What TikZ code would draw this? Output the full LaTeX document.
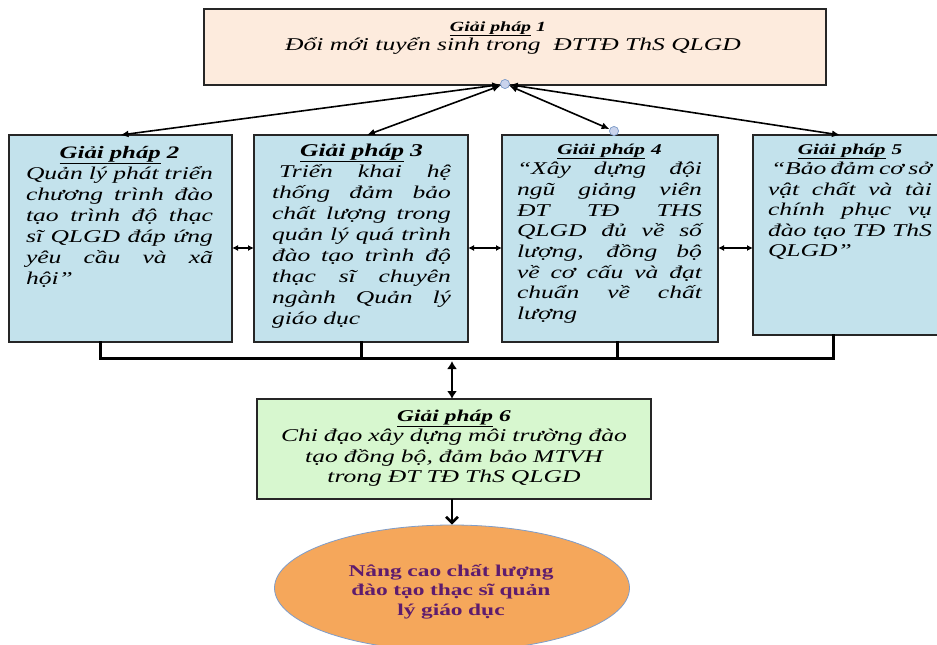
\documentclass[tikz,border=0pt]{standalone}
\usepackage{fontspec}
\setmainfont{Liberation Serif}[FakeStretch=1.42]
\usetikzlibrary{arrows.meta,calc,shapes.geometric}
\definecolor{peach}{HTML}{FDEBDD}
\definecolor{lblue}{HTML}{C3E2EC}
\definecolor{lgreen}{HTML}{D7F7CF}
\definecolor{orng}{HTML}{F5A75B}
\definecolor{ellb}{HTML}{7F9DC9}
\definecolor{purp}{HTML}{5E1C6E}
\definecolor{dotf}{HTML}{C9D3EC}
\newcommand{\jl}[1]{\hbox to \hsize{\spaceskip=0.25em plus 1fil minus 0.1em\relax #1}\par}
\newcommand{\gptitle}[2]{{\centering\fontsize{#1}{21}\selectfont\bfseries\underline{Giải pháp} #2\par}}
\tikzset{
  boxst/.style={draw=black!85, line width=2pt, anchor=north west, inner sep=0pt, outer sep=0pt},
  txt/.style={anchor=base west, inner sep=0pt, outer sep=0pt, text width=#1},
  conn/.style={line width=1.6pt, {Latex[length=8pt,width=7pt]}-{Latex[length=8pt,width=7pt]}},
  hconn/.style={line width=1.2pt, {Latex[length=6pt,width=6pt]}-{Latex[length=6pt,width=6pt]}},
  bus/.style={line width=3pt, line cap=rect},
  dotc/.style={circle, draw=ellb, fill=dotf, minimum size=9pt, inner sep=0pt, line width=0.6pt},
}
\begin{document}
\begin{tikzpicture}[x=1pt,y=-1pt]
\useasboundingbox (0,0) rectangle (937,645);
\clip (0,0) rectangle (937,645);
\fill[white] (0,0) rectangle (937,645);

% boxes
\node[boxst, fill=peach, line width=2.5pt, minimum width=622pt, minimum height=76pt] (b1) at (204,9) {};
\node[boxst, fill=lblue, minimum width=223pt, minimum height=207pt] (b2) at (9,135) {};
\node[boxst, fill=lblue, minimum width=214pt, minimum height=207pt] (b3) at (254,135) {};
\node[boxst, fill=lblue, minimum width=216pt, minimum height=207pt] (b4) at (502,135) {};
\node[boxst, fill=lblue, minimum width=210pt, minimum height=200pt] (b5) at (753,135) {};
\node[boxst, fill=lgreen, minimum width=394pt, minimum height=100pt] (b6) at (257,399) {};
\node[ellipse, draw=ellb, line width=0.8pt, fill=orng, minimum width=355pt, minimum height=126pt, inner sep=0pt] (ell) at (452,588) {};

% box 1 text
\node[anchor=base, inner sep=0pt, font=\fontsize{14}{16}\selectfont\bfseries\itshape] (t1a) at (498,31) {\underline{Giải pháp} 1};
\node[anchor=base, inner sep=0pt, font=\fontsize{18}{21}\selectfont\itshape] (t1b) at (513,50) {Đổi mới tuyển sinh trong\ \ ĐTTĐ ThS QLGD};

% box 2 text
\node[txt=187pt, font=\fontsize{18}{21}\selectfont\itshape] (t2) at (26,158) {%
\gptitle{17.5}{2}%
\jl{Quản lý phát triển}%
\jl{chương trình đào}%
\jl{tạo trình độ thạc}%
\jl{sĩ QLGD đáp ứng}%
\jl{yêu cầu và xã}%
hội”\par};

% box 3 text
\node[txt=179pt, font=\fontsize{18}{21}\selectfont\itshape] (t3) at (272,156) {%
\gptitle{18}{3}%
\jl{\hspace*{7pt}Triển khai hệ}%
\jl{thống đảm bảo}%
\jl{chất lượng trong}%
\jl{quản lý quá trình}%
\jl{đào tạo trình độ}%
\jl{thạc sĩ chuyên}%
\jl{ngành Quản lý}%
giáo dục\par};

% box 4 text
\node[txt=185pt, font=\fontsize{18}{20.7}\selectfont\itshape] (t4) at (517,154) {%
\gptitle{15}{4}%
\jl{“Xây dựng đội}%
\jl{ngũ giảng viên}%
\jl{ĐT TĐ THS}%
\jl{QLGD đủ về số}%
\jl{lượng, đồng bộ}%
\jl{về cơ cấu và đạt}%
\jl{chuẩn về chất}%
lượng\par};

% box 5 text
\node[txt=164pt, font=\fontsize{18}{20.5}\selectfont\itshape] (t5) at (768,154) {%
\gptitle{15}{5}%
\jl{\hspace*{3pt}“Bảo đảm cơ sở}%
\jl{vật chất và tài}%
\jl{chính phục vụ}%
\jl{đào tạo TĐ ThS}%
QLGD”\par};

% box 6 text
\node[anchor=base, inner sep=0pt, text width=400pt, align=center, font=\fontsize{18}{20.5}\selectfont\itshape] (t6) at (454,421) {%
{\fontsize{16.5}{20.5}\selectfont\bfseries\underline{Giải pháp} 6\par}%
Chi đạo xây dựng môi trường đào\par
tạo đồng bộ, đảm bảo MTVH\par
trong ĐT TĐ ThS QLGD\par};

% ellipse text
\node[anchor=base, inner sep=0pt, text width=300pt, align=center, text=purp, font=\fontsize{16.5}{19.5}\selectfont\bfseries] (t7) at (451,576) {%
Nâng cao chất lượng\par
đào tạo thạc sĩ quản\par
lý giáo dục\par};

% junction and top connectors
\node[dotc] (j) at (505,84) {};
\node[dotc] (c4) at (614,131) {};
\draw[conn] (j) -- (b2.north);
\draw[conn] (j) -- ([xshift=6pt]b3.north);
\draw[conn] (j) -- (c4);
\draw[conn] (j) -- ($(b5.north west)+(87,0)$);
\node[dotc] at (j) {};
\node[dotc] at (c4) {};

% horizontal double arrows
\coordinate (ha) at (0,248);
\draw[hconn] (b2.east |- ha) -- (b3.west |- ha);
\draw[hconn] (b3.east |- ha) -- (b4.west |- ha);
\draw[hconn] (b4.east |- ha) -- (b5.west |- ha);

% bus
\coordinate (busy) at (0,358);
\coordinate (p2) at ($(b2.south west)+(91,0)$);
\coordinate (p3) at (b3.south);
\coordinate (p4) at ($(b4.south west)+(115,0)$);
\coordinate (p5) at ($(b5.south west)+(80,0)$);
\draw[bus] (p2) -- (p2 |- busy) -- (p5 |- busy) -- (p5);
\draw[bus] (p3) -- (p3 |- busy);
\draw[bus] (p4) -- (p4 |- busy);

% vertical arrows
\coordinate (vtop) at (452,361);
\draw[line width=2.6pt, {Latex[length=8pt,width=10pt]}-{Latex[length=8pt,width=10pt]}] (vtop) -- (vtop |- b6.north);
\draw[line width=2.6pt, -{Straight Barb[length=6pt,width=12pt]}] (vtop |- b6.south) -- (vtop |- ell.north);
\end{tikzpicture}
\end{document}
